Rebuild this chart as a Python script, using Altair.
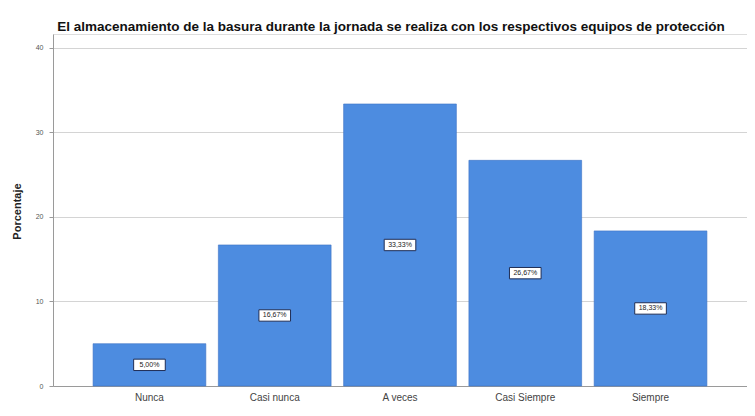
import altair as alt
import pandas as pd

categorias = ["Nunca", "Casi nunca", "A veces", "Casi Siempre", "Siempre"]
porcentajes = [5.00, 16.67, 33.33, 26.67, 18.33]
etiquetas = ["5,00%", "16,67%", "33,33%", "26,67%", "18,33%"]

df = pd.DataFrame({
    "cat": categorias,
    "pct": porcentajes,
    "lab": etiquetas,
})
df["mid"] = df["pct"] / 2

FONT = "Liberation Sans"

x = alt.X(
    "cat:N",
    sort=categorias,
    scale=alt.Scale(paddingInner=0.1, paddingOuter=0.32),
    axis=alt.Axis(
        title=None,
        labelAngle=0,
        labelFontSize=10,
        labelColor="#444444",
        labelFont=FONT,
        labelPadding=6,
        ticks=False,
        domainColor="#9a9a9a",
        domainWidth=1,
        grid=False,
    ),
)

y_axis = alt.Axis(
    title="Porcentaje",
    titleFont=FONT,
    titleFontSize=11,
    titleFontWeight="bold",
    titleColor="#222222",
    titleX=-36,
    titleY=177,
    titleAngle=-90,
    titleAlign="center",
    titleBaseline="middle",
    values=[0, 10, 20, 30, 40],
    labelFontSize=7,
    labelColor="#555555",
    labelFont=FONT,
    labelPadding=6,
    tickSize=4,
    tickColor="#9a9a9a",
    domainColor="#9a9a9a",
    gridColor="#d4d4d4",
    gridWidth=1,
)

bars = alt.Chart(df).mark_bar(
    color="#4d8ce0", stroke="#3c72c4", strokeWidth=0.6
).encode(
    x=x,
    y=alt.Y("pct:Q", scale=alt.Scale(domain=[0, 41.6], nice=False), axis=y_axis),
)

boxes = alt.Chart(df).mark_point(
    shape="M-1,-0.36H1V0.36H-1Z",
    filled=True,
    fill="white",
    stroke="#1f2d55",
    strokeWidth=1,
    size=1000,
    opacity=1,
).encode(
    x=alt.X("cat:N", sort=categorias),
    y=alt.Y("mid:Q"),
)

texts = alt.Chart(df).mark_text(
    font=FONT, fontSize=7, color="#222222", baseline="middle", align="center"
).encode(
    x=alt.X("cat:N", sort=categorias),
    y=alt.Y("mid:Q"),
    text="lab:N",
)

chart = alt.layer(bars, boxes, texts).properties(
    width=694,
    height=352,
    autosize=alt.AutoSizeParams(type="none"),
    padding={"left": 45, "top": 26, "right": 0, "bottom": 20},
    title=alt.TitleParams(
        "El almacenamiento de la basura durante la jornada se realiza con los respectivos equipos de protección",
        font=FONT,
        fontSize=13.5,
        fontWeight="bold",
        color="#111111",
        anchor="middle",
        dx=-9,
        offset=1,
    ),
).configure_view(stroke=None).configure(background="white")

chart.save("out.html", embed_options={"renderer": "svg", "actions": False})
